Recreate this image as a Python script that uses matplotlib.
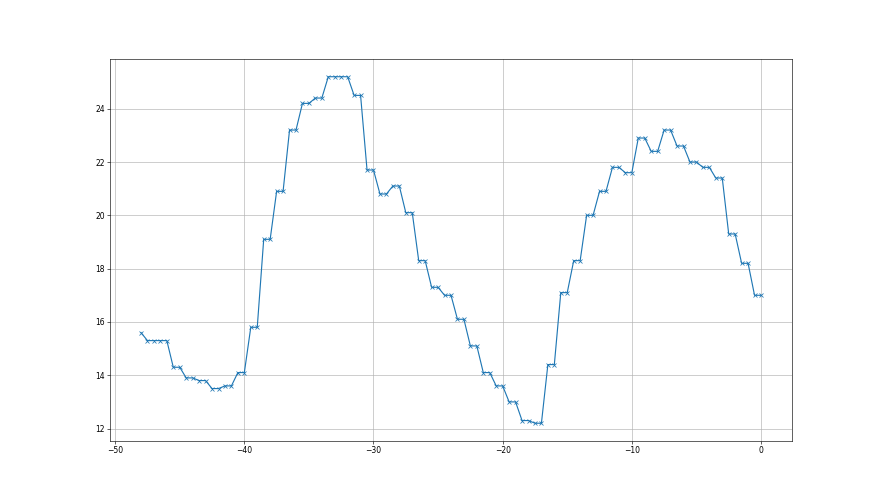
import matplotlib
matplotlib.use("Agg")
import matplotlib.pyplot as plt

x_values = [-48.0,
            -47.5, -47.0, -46.5, -46.0, -45.5, -45.0, -44.5, -44.0, -43.5, -43.0,
            -42.5, -42.0, -41.5, -41.0, -40.5, -40.0, -39.5, -39.0, -38.5, -38.0,
            -37.5, -37.0, -36.5, -36.0, -35.5, -35.0, -34.5, -34.0, -33.5, -33.0,
            -32.5, -32.0, -31.5, -31.0, -30.5, -30.0, -29.5, -29.0, -28.5, -28.0,
            -27.5, -27.0, -26.5, -26.0, -25.5, -25.0, -24.5, -24.0, -23.5, -23.0,
            -22.5, -22.0, -21.5, -21.0, -20.5, -20.0, -19.5, -19.0, -18.5, -18.0,
            -17.5, -17.0, -16.5, -16.0, -15.5, -15.0, -14.5, -14.0, -13.5, -13.0,
            -12.5, -12.0, -11.5, -11.0, -10.5, -10.0, -9.5, -9.0, -8.5, -8.0,
            -7.5, -7.0, -6.5, -6.0, -5.5, -5.0, -4.5, -4.0, -3.5, -3.0,
            -2.5, -2.0, -1.5, -1.0, -0.5, 0.0]

y_values = [15.6,
            15.3, 15.3, 15.3, 15.3, 14.3, 14.3, 13.9, 13.9, 13.8, 13.8,
            13.5, 13.5, 13.6, 13.6, 14.1, 14.1, 15.8, 15.8, 19.1, 19.1,
            20.9, 20.9, 23.2, 23.2, 24.2, 24.2, 24.4, 24.4, 25.2, 25.2,
            25.2, 25.2, 24.5, 24.5, 21.7, 21.7, 20.8, 20.8, 21.1, 21.1,
            20.1, 20.1, 18.3, 18.3, 17.3, 17.3, 17.0, 17.0, 16.1, 16.1,
            15.1, 15.1, 14.1, 14.1, 13.6, 13.6, 13.0, 13.0, 12.3, 12.3,
            12.2, 12.2, 14.4, 14.4, 17.1, 17.1, 18.3, 18.3, 20.0, 20.0,
            20.9, 20.9, 21.8, 21.8, 21.6, 21.6, 22.9, 22.9, 22.4, 22.4,
            23.2, 23.2, 22.6, 22.6, 22.0, 22.0, 21.8, 21.8, 21.4, 21.4,
            19.3, 19.3, 18.2, 18.2, 17.0, 17.0]

fig, ax = plt.subplots(figsize=(16, 9), dpi=55)
ax.plot(x_values, y_values, marker="x", color="#1f77b4")
ax.grid(True)
fig.savefig("out.png", dpi=55)
